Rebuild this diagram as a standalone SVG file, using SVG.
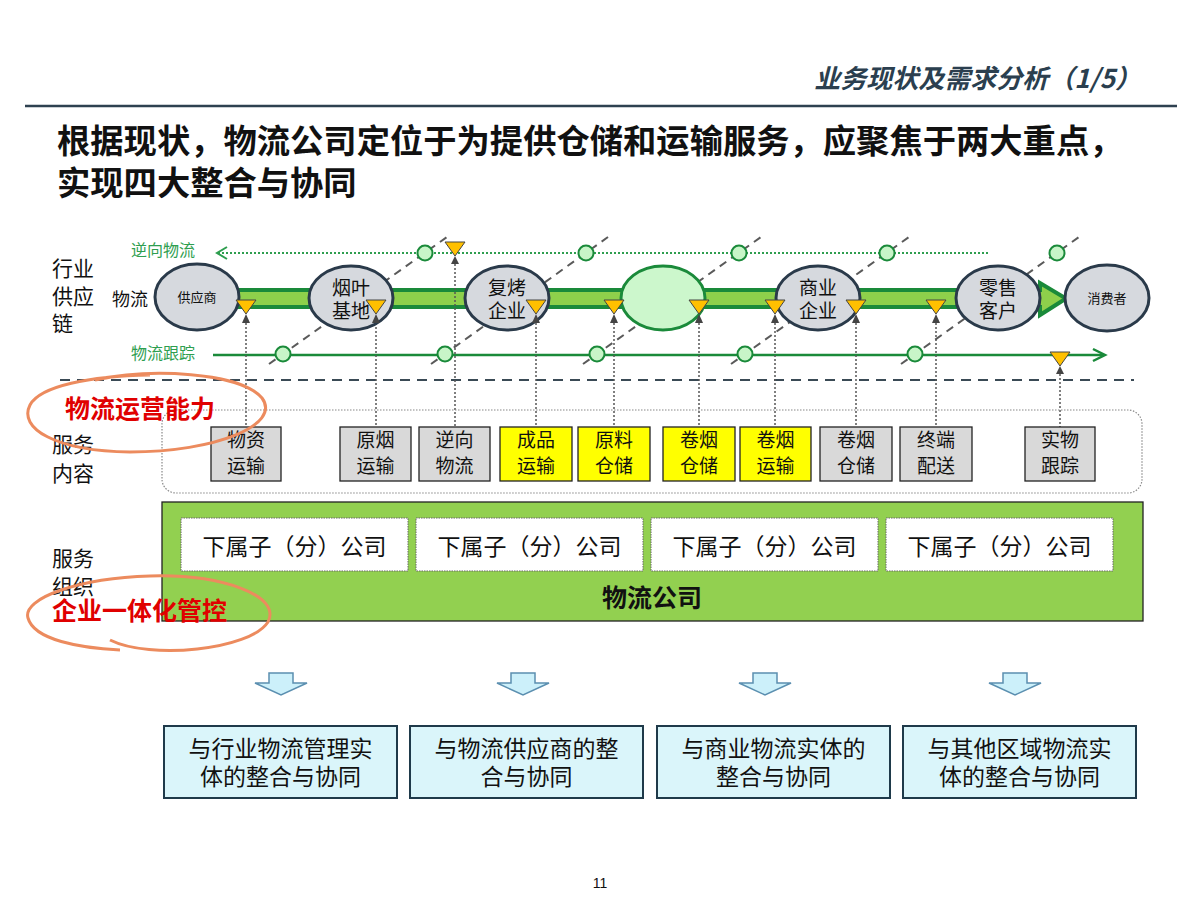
<svg xmlns="http://www.w3.org/2000/svg" width="1200" height="900" viewBox="0 0 1200 900">
<defs>
<style>
text{font-family:"Noto Sans CJK SC","Liberation Sans",sans-serif;}
.lat{font-family:"Liberation Sans","Noto Sans CJK SC",sans-serif;}
.ell{fill:#d6d9de;stroke:#2a3a4a;stroke-width:3;}
.et{font-size:19px;fill:#111;text-anchor:middle;}
.es{font-size:13px;fill:#111;text-anchor:middle;}
.tri{fill:#ffc000;stroke:#444;stroke-width:1;}
.garr{fill:#444;}
.vdot{stroke:#555;stroke-width:1.5;stroke-dasharray:2 2;fill:none;}
.diag{stroke:#5a5a5a;stroke-width:2;stroke-dasharray:8 6;fill:none;}
.circ{fill:#c8f5c8;stroke:#1a8a3a;stroke-width:2;}
.gbox{fill:#d9d9d9;stroke:#222;stroke-width:1.3;}
.ybox{fill:#ffff00;stroke:#222;stroke-width:1.3;}
.bt{font-size:19px;fill:#111;text-anchor:middle;}
.sub{fill:#fff;stroke:#666;stroke-width:1;stroke-dasharray:1.5 1;}
.subt{font-size:23px;fill:#111;text-anchor:middle;}
.barr{fill:#ccf0fa;stroke:#5b8fb0;stroke-width:1.5;}
.res{fill:#daf5fa;stroke:#1f3a4a;stroke-width:2;}
.rest{font-size:23px;fill:#111;text-anchor:middle;}
.lbl{font-size:21px;fill:#111;}
.oval{fill:none;stroke:#ec8b5e;stroke-width:3;}
.red{font-size:25px;font-weight:bold;fill:#e00000;}
</style>
</defs>
<rect width="1200" height="900" fill="#fff"/>

<g id="header">
<text x="1141" y="88" font-size="26" font-weight="bold" font-style="italic" fill="#2b3f4f" text-anchor="end">业务现状及需求分析（1/5）</text>
<line x1="25" y1="106" x2="1177" y2="106" stroke="#2e4150" stroke-width="2.5"/>
</g>

<g id="title">
<text x="57" y="153" font-size="33.3" font-weight="bold" fill="#111">根据现状，物流公司定位于为提供仓储和运输服务，应聚焦于两大重点，</text>
<text x="57" y="195" font-size="33.3" font-weight="bold" fill="#111">实现四大整合与协同</text>
</g>

<g id="left-labels">
<text class="lbl" x="52" y="276">行业</text>
<text class="lbl" x="52" y="304">供应</text>
<text class="lbl" x="52" y="331">链</text>
<text x="112" y="306" font-size="18" fill="#111">物流</text>
<text x="131" y="256" font-size="16" fill="#2e9e4f">逆向物流</text>
<text x="131" y="359" font-size="16" fill="#2e9e4f">物流跟踪</text>
<text class="lbl" x="52" y="452">服务</text>
<text class="lbl" x="52" y="481">内容</text>
<text class="lbl" x="52" y="566">服务</text>
<text class="lbl" x="52" y="594">组织</text>
</g>

<g id="connectors">
<line class="diag" x1="269" y1="364" x2="447" y2="237"/>
<line class="diag" x1="431" y1="364" x2="608" y2="237"/>
<line class="diag" x1="583" y1="364" x2="761" y2="237"/>
<line class="diag" x1="731" y1="364" x2="909" y2="237"/>
<line class="diag" x1="901" y1="364" x2="1079" y2="237"/>
<line x1="218" y1="253" x2="990" y2="253" stroke="#2e9e4f" stroke-width="2" stroke-dasharray="2 2"/>
<polyline points="227,247 217,253 227,259" fill="none" stroke="#2e9e4f" stroke-width="2"/>
<line x1="213" y1="355" x2="1104" y2="355" stroke="#1a8a3a" stroke-width="2.5"/>
<polyline points="1093,349 1105,355 1093,361" fill="none" stroke="#1a8a3a" stroke-width="2.5"/>
<path d="M238,290 L1040,290 L1040,283 L1066,298.5 L1040,315 L1040,307 L238,307 Z" fill="#8ed04b" stroke="#1a8a3a" stroke-width="4" stroke-linejoin="miter"/>
<line x1="60" y1="380" x2="1134" y2="380" stroke="#3a4a55" stroke-width="2" stroke-dasharray="10 7"/>
<line class="vdot" x1="246" y1="323" x2="246" y2="427"/>
<line class="vdot" x1="376" y1="323" x2="376" y2="427"/>
<line class="vdot" x1="455" y1="264" x2="455" y2="427"/>
<line class="vdot" x1="536" y1="323" x2="536" y2="427"/>
<line class="vdot" x1="614" y1="323" x2="614" y2="427"/>
<line class="vdot" x1="699" y1="323" x2="699" y2="427"/>
<line class="vdot" x1="775" y1="323" x2="775" y2="427"/>
<line class="vdot" x1="856" y1="323" x2="856" y2="427"/>
<line class="vdot" x1="936" y1="323" x2="936" y2="427"/>
<line class="vdot" x1="1060" y1="374" x2="1060" y2="427"/>
</g>

<g id="circles">
<circle class="circ" cx="425" cy="253" r="7.5"/>
<circle class="circ" cx="586" cy="253" r="7.5"/>
<circle class="circ" cx="739" cy="253" r="7.5"/>
<circle class="circ" cx="887" cy="253" r="7.5"/>
<circle class="circ" cx="1057" cy="253" r="7.5"/>
<circle class="circ" cx="283" cy="354" r="7.5"/>
<circle class="circ" cx="445" cy="354" r="7.5"/>
<circle class="circ" cx="597" cy="354" r="7.5"/>
<circle class="circ" cx="745" cy="354" r="7.5"/>
<circle class="circ" cx="915" cy="354" r="7.5"/>
</g>

<g id="node-supplier"><ellipse class="ell" cx="197" cy="297" rx="42" ry="33"/><text class="es" x="197" y="302">供应商</text></g>
<g id="node-tobacco-base"><ellipse class="ell" cx="351" cy="298" rx="42" ry="32"/><text class="et" x="351" y="295">烟叶</text><text class="et" x="351" y="318">基地</text></g>
<g id="node-redrying"><ellipse class="ell" cx="507" cy="298" rx="42" ry="32"/><text class="et" x="507" y="295">复烤</text><text class="et" x="507" y="318">企业</text></g>
<g id="node-green"><ellipse cx="663" cy="298" rx="42" ry="32" fill="#ccf7cc" stroke="#1a8a3a" stroke-width="3"/></g>
<g id="node-commercial"><ellipse class="ell" cx="818" cy="298" rx="42" ry="32"/><text class="et" x="818" y="295">商业</text><text class="et" x="818" y="318">企业</text></g>
<g id="node-retail"><ellipse class="ell" cx="998" cy="298" rx="42" ry="32"/><text class="et" x="998" y="295">零售</text><text class="et" x="998" y="318">客户</text></g>
<g id="node-consumer"><ellipse class="ell" cx="1107" cy="298" rx="42" ry="33"/><text class="es" x="1107" y="303">消费者</text></g>

<g id="markers">
<polygon class="tri" points="236,300 256,300 246,314"/><polygon class="garr" points="242,323 250,323 246,314"/>
<polygon class="tri" points="366,300 386,300 376,314"/><polygon class="garr" points="372,323 380,323 376,314"/>
<polygon class="tri" points="445,242 465,242 455,256"/><polygon class="garr" points="451,264 459,264 455,256"/>
<polygon class="tri" points="526,300 546,300 536,314"/><polygon class="garr" points="532,323 540,323 536,314"/>
<polygon class="tri" points="604,300 624,300 614,314"/><polygon class="garr" points="610,323 618,323 614,314"/>
<polygon class="tri" points="689,300 709,300 699,314"/><polygon class="garr" points="695,323 703,323 699,314"/>
<polygon class="tri" points="765,300 785,300 775,314"/><polygon class="garr" points="771,323 779,323 775,314"/>
<polygon class="tri" points="846,300 866,300 856,314"/><polygon class="garr" points="852,323 860,323 856,314"/>
<polygon class="tri" points="926,300 946,300 936,314"/><polygon class="garr" points="932,323 940,323 936,314"/>
<polygon class="tri" points="1050,352 1070,352 1060,366"/><polygon class="garr" points="1056,374 1064,374 1060,366"/>
</g>

<g id="service-content">
<rect x="162" y="410" width="980" height="83" rx="14" fill="none" stroke="#888" stroke-width="1.2" stroke-dasharray="1.5 1.5"/>
<g id="svc-1"><rect class="gbox" x="211" y="427" width="70" height="54"/><text class="bt" x="246" y="447">物资</text><text class="bt" x="246" y="473">运输</text></g>
<g id="svc-2"><rect class="gbox" x="340" y="427" width="71" height="54"/><text class="bt" x="375.5" y="447">原烟</text><text class="bt" x="375.5" y="473">运输</text></g>
<g id="svc-3"><rect class="gbox" x="419" y="427" width="71" height="54"/><text class="bt" x="454.5" y="447">逆向</text><text class="bt" x="454.5" y="473">物流</text></g>
<g id="svc-4"><rect class="ybox" x="500" y="427" width="72" height="54"/><text class="bt" x="536" y="447">成品</text><text class="bt" x="536" y="473">运输</text></g>
<g id="svc-5"><rect class="ybox" x="578" y="427" width="72" height="54"/><text class="bt" x="614" y="447">原料</text><text class="bt" x="614" y="473">仓储</text></g>
<g id="svc-6"><rect class="ybox" x="663" y="427" width="72" height="54"/><text class="bt" x="699" y="447">卷烟</text><text class="bt" x="699" y="473">仓储</text></g>
<g id="svc-7"><rect class="ybox" x="740" y="427" width="71" height="54"/><text class="bt" x="775.5" y="447">卷烟</text><text class="bt" x="775.5" y="473">运输</text></g>
<g id="svc-8"><rect class="gbox" x="820" y="427" width="72" height="54"/><text class="bt" x="856" y="447">卷烟</text><text class="bt" x="856" y="473">仓储</text></g>
<g id="svc-9"><rect class="gbox" x="900" y="427" width="72" height="54"/><text class="bt" x="936" y="447">终端</text><text class="bt" x="936" y="473">配送</text></g>
<g id="svc-10"><rect class="gbox" x="1025" y="427" width="70" height="54"/><text class="bt" x="1060" y="447">实物</text><text class="bt" x="1060" y="473">跟踪</text></g>
</g>

<g id="logistics-company">
<rect x="162" y="502" width="981" height="119" fill="#92d050" stroke="#222" stroke-width="1.3"/>
<g id="sub-1"><rect class="sub" x="181" y="518" width="227" height="53"/><text class="subt" x="294.5" y="555">下属子（分）公司</text></g>
<g id="sub-2"><rect class="sub" x="416" y="518" width="227" height="53"/><text class="subt" x="529.5" y="555">下属子（分）公司</text></g>
<g id="sub-3"><rect class="sub" x="651" y="518" width="227" height="53"/><text class="subt" x="764.5" y="555">下属子（分）公司</text></g>
<g id="sub-4"><rect class="sub" x="886" y="518" width="227" height="53"/><text class="subt" x="999.5" y="555">下属子（分）公司</text></g>
<text x="652" y="607" font-size="25" font-weight="bold" fill="#111" text-anchor="middle">物流公司</text>
</g>

<g id="highlights">
<path class="oval" d="M95,380 C150,368 240,372 262,398 C282,425 215,452 130,452 C55,451 18,428 30,405 C40,386 90,376 150,375"/>
<text class="red" x="65" y="418">物流运营能力</text>
<path class="oval" d="M110,640 C150,660 250,650 268,622 C282,595 220,574 150,576 C80,578 22,598 28,618 C34,640 80,648 120,650"/>
<text class="red" x="52" y="620">企业一体化管控</text>
</g>

<g id="down-arrows">
<polygon class="barr" points="269,673 293,673 293,683 307,683 281,695 255,683 269,683"/>
<polygon class="barr" points="511,673 535,673 535,683 549,683 523,695 497,683 511,683"/>
<polygon class="barr" points="753,673 777,673 777,683 791,683 765,695 739,683 753,683"/>
<polygon class="barr" points="1003,673 1027,673 1027,683 1041,683 1015,695 989,683 1003,683"/>
</g>

<g id="result-1"><rect class="res" x="164" y="726" width="233" height="72"/><text class="rest" x="280.5" y="757">与行业物流管理实</text><text class="rest" x="280.5" y="785">体的整合与协同</text></g>
<g id="result-2"><rect class="res" x="410" y="726" width="233" height="72"/><text class="rest" x="526.5" y="757">与物流供应商的整</text><text class="rest" x="526.5" y="785">合与协同</text></g>
<g id="result-3"><rect class="res" x="657" y="726" width="233" height="72"/><text class="rest" x="773.5" y="757">与商业物流实体的</text><text class="rest" x="773.5" y="785">整合与协同</text></g>
<g id="result-4"><rect class="res" x="903" y="726" width="233" height="72"/><text class="rest" x="1019.5" y="757">与其他区域物流实</text><text class="rest" x="1019.5" y="785">体的整合与协同</text></g>

<text class="lat" x="600" y="888" font-size="14" fill="#111" text-anchor="middle">11</text>
</svg>
